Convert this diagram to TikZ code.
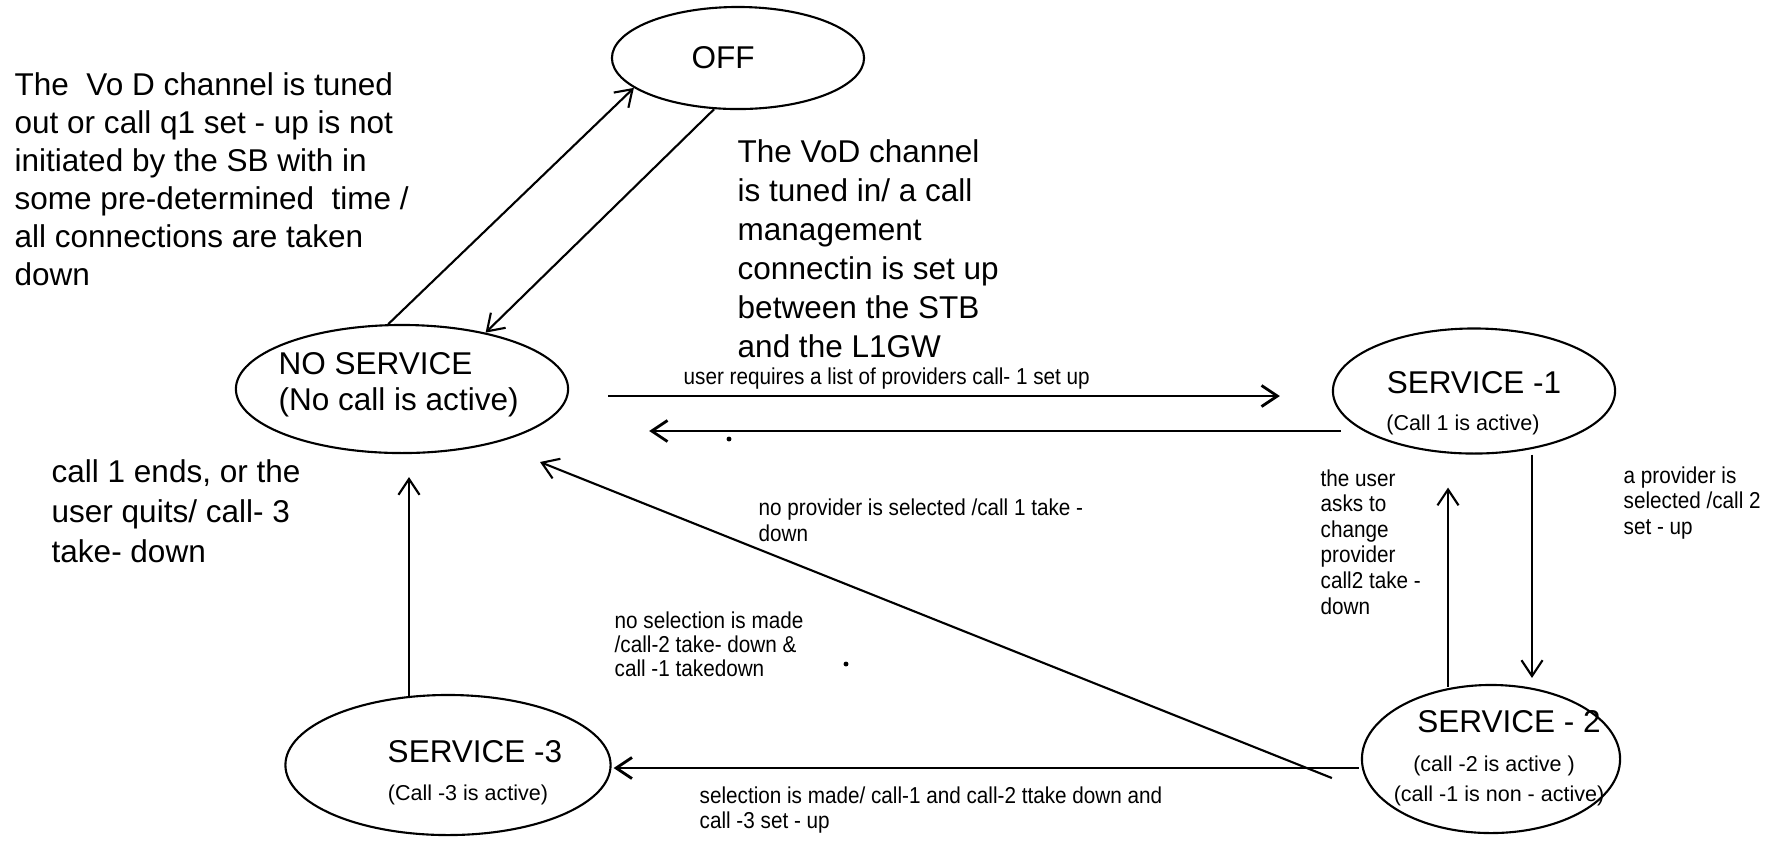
\documentclass[tikz,border=0pt]{standalone}
\usepackage{fontspec}
\setmainfont{Liberation Sans}
\newfontfamily\narrowsans[FakeStretch=0.9]{Liberation Sans}
\usetikzlibrary{arrows.meta,calc,shapes.geometric}

% type sizes (1 unit = 0.1 mm)
\newcommand\bigtxt{\fontsize{8.96pt}{10.81pt}\selectfont}
\newcommand\subtxt{\fontsize{6.12pt}{7.97pt}\selectfont}
\newcommand\smalltxt{\narrowsans\fontsize{6.54pt}{7.26pt}\selectfont}

\begin{document}
\begin{tikzpicture}[x=0.01cm, y=-0.01cm,
  state/.style={draw, ellipse, line width=0.6pt, inner sep=0pt},
  big/.style={inner sep=0pt, font=\bigtxt},
  sub/.style={inner sep=0pt, font=\subtxt},
  note/.style={inner sep=0pt, align=left, anchor=north west},
  small/.style={note, font=\smalltxt},
  arr/.style={line width=0.6pt, -{Straight Barb[length=4.5pt,width=6pt]}},
  harr/.style={arr, line width=0.8pt},
]
\useasboundingbox (0,0) rectangle (1773,844);

% states
\node[state, minimum width=2.52cm, minimum height=1.02cm] (off) at (738,58) {};
\node[big] (offt) at (723,58) {OFF};

\node[state, minimum width=3.32cm, minimum height=1.28cm] (ns) at (402,389) {};
\node[big, note, font=\fontsize{8.96pt}{10.24pt}\selectfont] (nst) at (278,352)
  {NO SERVICE\\(No call is active)};

\node[state, minimum width=2.82cm, minimum height=1.25cm] (s1) at (1474,391) {};
\node[big, anchor=base] (s1t) at (1474,393) {SERVICE -1};
\node[sub, anchor=base] (s1s) at (1463,430) {(Call 1 is active)};

\node[state, minimum width=2.58cm, minimum height=1.48cm] (s2) at (1491,759) {};
\node[big, anchor=base] (s2t) at (1509,732) {SERVICE - 2};
\node[sub, anchor=base] (s2s) at (1494,771) {(call -2 is active )};
\node[sub, anchor=base] (s2u) at (1499,801) {(call -1 is non - active)};

\node[state, minimum width=3.25cm, minimum height=1.40cm] (s3) at (448,765) {};
\node[big, anchor=base] (s3t) at (475,762) {SERVICE -3};
\node[sub, anchor=base] (s3s) at (468,800) {(Call -3 is active)};

% transitions
\draw[arr] (ns.102) -- (off.196);
\draw[arr] (off.245) -- (ns.34);
\draw[harr] ($(ns.east)+(39,7)$) -- ($(s1.west)+(-52,5)$);
\draw[harr] ($(s1.west)+(9,40)$) -- ($(ns.east)+(80,42)$);
\draw[arr] ($(s1.south)+(58,0)$) -- ($(s2.north)+(41,-6)$);
\draw[arr] ($(s2.north)+(-43,3)$) -- ($(s1.south)+(-26,33)$);
\draw[harr] ($(s2.west)+(-2,9)$) -- ($(s3.east)+(2,3)$);
\draw[arr] ($(s2.west)+(-29,19)$) -- ($(ns.center)+(138,73)$);
\draw[arr] ($(s3.north)+(-39,2)$) -- ($(ns.south)+(7,23)$);

% transition texts
\node[big, note] (t1) at (14,72)
  {The\ \ Vo D channel is tuned\\out or call q1 set - up is not\\initiated by the SB with in\\some pre-determined\ \ time /\\all connections are taken\\down};
\node[big, note, font=\fontsize{8.96pt}{11.1pt}\selectfont] (t2) at (737,139)
  {The VoD channel\\is tuned in/ a call\\management\\connectin is set up\\between the STB\\and the L1GW};
\node[big, note, font=\fontsize{8.96pt}{11.38pt}\selectfont] (t3) at (51,459)
  {call 1 ends, or the\\user quits/ call- 3\\take- down};

\node[small] (t4) at (683,367) {user requires a list of providers call- 1 set up};
\node[small, font=\narrowsans\fontsize{6.54pt}{7.4pt}\selectfont] (t5) at (758,498)
  {no provider is selected /call 1 take -\\down};
\node[small, font=\narrowsans\fontsize{6.54pt}{6.9pt}\selectfont] (t6) at (614,611)
  {no selection is made\\/call-2 take- down \&\\call -1 takedown};
\node[small] (t7) at (699,786)
  {selection is made/ call-1 and call-2 ttake down and\\call -3 set - up};
\node[small] (t8) at (1320,469)
  {the user\\asks to\\change\\provider\\call2 take -\\down};
\node[small] (t9) at (1623,466)
  {a provider is\\selected /call 2\\set - up};

% specks
\fill (729,439) circle[radius=0.7pt];
\fill (846,664) circle[radius=0.7pt];
\end{tikzpicture}
\end{document}
